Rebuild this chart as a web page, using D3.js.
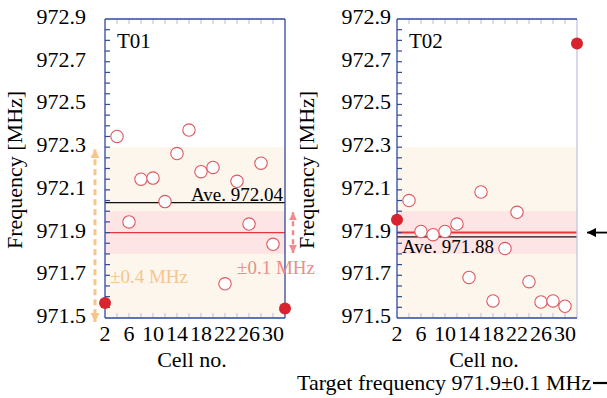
<!DOCTYPE html>
<html>
<head>
<meta charset="utf-8">
<script src="https://cdn.jsdelivr.net/npm/d3@7/dist/d3.min.js"></script>
<style>
  body { margin: 0; background: #fff; }
</style>
</head>
<body>
<svg id="chart" width="607" height="398"></svg>
<script>
// cell numbers (x) and measured frequency per cell, MHz
var cells = [2, 4, 6, 8, 10, 12, 14, 16, 18, 20, 22, 24, 26, 28, 30, 32];
var freqT01 = [971.57, 972.35, 971.95, 972.15, 972.155, 972.045, 972.27, 972.38,
               972.185, 972.205, 971.66, 972.14, 971.94, 972.225, 971.845, 971.545];
var freqT02 = [971.96, 972.05, 971.905, 971.89, 971.905, 971.94, 971.69, 972.09,
               971.58, 971.825, 971.995, 971.67, 971.575, 971.58, 971.555, 972.785];
var panelNames = ["T01", "T02"];
var averages = [972.04, 971.88];
var target = 971.9;
var tolNarrow = 0.1;
var tolWide = 0.4;
var yTickLabels = ["971.5", "971.7", "971.9", "972.1", "972.3", "972.5", "972.7", "972.9"];
var xTickLabels = [2, 6, 10, 14, 18, 22, 26, 30];

var serif = "'Liberation Serif', 'Times New Roman', Times, 'DejaVu Serif', serif";
var svg = d3.select("#chart")
    .attr("font-family", serif)
    .style("font-family", serif);
var axisBlue = "#2e4a9e", faint = "#c9cde6";
var bandOrange = "#fdf6ec", bandPink = "#fde5e5";
var dotRed = "#d9232e", ringRed = "#e0575e";

var y = d3.scaleLinear().domain([971.5, 972.9]).range([318, 19]);
var x = d3.scaleLinear().domain([2, 32]).range([0, 180]);

var defs = svg.append("defs");
function marker(id, color, w, h) {
    defs.append("marker")
        .attr("id", id)
        .attr("viewBox", "0 0 10 10")
        .attr("refX", 10).attr("refY", 5)
        .attr("markerUnits", "userSpaceOnUse")
        .attr("markerWidth", w).attr("markerHeight", h)
        .attr("orient", "auto-start-reverse")
        .append("path")
        .attr("d", "M0,0 L10,5 L0,10 z")
        .attr("fill", color);
}
marker("arrOrange", "#f7c58c", 9, 11);
marker("arrPink", "#f28a8a", 8, 10);
marker("arrBlack", "#000", 10, 9);

var panels = [
    { left: 105, freq: freqT01, labelGap: 19, ave: averages[0], aveAbove: true, rightEdge: axisBlue },
    { left: 397, freq: freqT02, labelGap: 6, ave: averages[1], aveAbove: false, rightEdge: "#c4c4e4" }
];

panels.forEach(function (p, i) {
    var g = svg.append("g").attr("transform", "translate(" + p.left + ",0)");
    var w = x.range()[1];

    // tolerance bands
    g.append("rect")
        .attr("x", 0).attr("width", w)
        .attr("y", y(target + tolWide))
        .attr("height", y(target - tolWide) - y(target + tolWide))
        .attr("fill", bandOrange);
    g.append("rect")
        .attr("x", 0).attr("width", w)
        .attr("y", y(target + tolNarrow))
        .attr("height", y(target - tolNarrow) - y(target + tolNarrow))
        .attr("fill", bandPink);

    // target + average lines
    g.append("line")
        .attr("x1", 0).attr("x2", w)
        .attr("y1", y(target)).attr("y2", y(target))
        .attr("stroke", "#e8353a").attr("stroke-width", i == 1 ? 2 : 1.3);
    g.append("line")
        .attr("x1", 0).attr("x2", w)
        .attr("y1", y(p.ave)).attr("y2", y(p.ave))
        .attr("stroke", "#111").attr("stroke-width", 1.2);

    var aveLabel = g.append("text")
        .attr("font-size", 19)
        .text("Ave. " + p.ave.toFixed(2));
    if (p.aveAbove) {
        aveLabel.attr("x", w - 2).attr("y", y(p.ave) - 2).attr("text-anchor", "end");
    } else {
        aveLabel.attr("x", 5).attr("y", y(p.ave) + 16);
    }

    // faint minor ticks, top and bottom
    var minor = d3.range(4, 31, 2);
    g.selectAll(".tickTop").data(minor).enter().append("line")
        .attr("x1", function (d) { return x(d); }).attr("x2", function (d) { return x(d); })
        .attr("y1", y(972.9)).attr("y2", y(972.9) + 5)
        .attr("stroke", faint).attr("stroke-width", 1.3);
    g.selectAll(".tickBot").data(minor).enter().append("line")
        .attr("x1", function (d) { return x(d); }).attr("x2", function (d) { return x(d); })
        .attr("y1", y(971.5)).attr("y2", y(971.5) - 5)
        .attr("stroke", faint).attr("stroke-width", 1.3);

    // left axis ticks every 0.05
    var yt = d3.range(1, 28).map(function (k) { return 971.5 + k * 0.05; });
    g.selectAll(".tickY").data(yt).enter().append("line")
        .attr("x1", 0).attr("x2", 5)
        .attr("y1", function (d) { return y(d); }).attr("y2", function (d) { return y(d); })
        .attr("stroke", axisBlue).attr("stroke-width", 1.2);

    // frame
    g.append("line").attr("x1", w).attr("x2", w).attr("y1", y(972.9)).attr("y2", y(971.5))
        .attr("stroke", p.rightEdge).attr("stroke-width", 1.3);
    g.append("line").attr("x1", 0).attr("x2", w).attr("y1", y(972.9)).attr("y2", y(972.9))
        .attr("stroke", axisBlue).attr("stroke-width", 1.3);
    g.append("line").attr("x1", 0).attr("x2", w).attr("y1", y(971.5)).attr("y2", y(971.5))
        .attr("stroke", axisBlue).attr("stroke-width", 1.5);
    g.append("line").attr("x1", 0).attr("x2", 0).attr("y1", y(972.9)).attr("y2", y(971.5))
        .attr("stroke", axisBlue).attr("stroke-width", 1.3);

    // y tick labels
    g.selectAll(".ylab").data(yTickLabels).enter().append("text")
        .attr("x", -p.labelGap)
        .attr("y", function (d) { return y(+d) + 5; })
        .attr("text-anchor", "end")
        .attr("font-size", 22)
        .text(function (d) { return d; });

    // x tick labels
    g.selectAll(".xlab").data(xTickLabels).enter().append("text")
        .attr("x", function (d) { return x(d); })
        .attr("y", 341)
        .attr("text-anchor", "middle")
        .attr("font-size", 22)
        .text(function (d) { return d; });

    g.append("text")
        .attr("x", w / 2 - 3).attr("y", 367)
        .attr("text-anchor", "middle")
        .attr("font-size", 22)
        .text("Cell no.");

    g.append("text")
        .attr("transform", "translate(-83,170) rotate(-90)")
        .attr("text-anchor", "middle")
        .attr("font-size", 22)
        .text("Frequency [MHz]");

    g.append("text")
        .attr("x", 12).attr("y", 48)
        .attr("font-size", 21)
        .text(panelNames[i]);

    // points: edge cells filled, the rest open rings
    var pts = cells.map(function (c, k) {
        return { c: c, f: p.freq[k], edge: k == 0 || k == cells.length - 1 };
    });
    g.selectAll(".pt").data(pts).enter().append("circle")
        .attr("cx", function (d) { return x(d.c); })
        .attr("cy", function (d) { return y(d.f); })
        .attr("r", function (d) { return d.edge ? 6 : 6.2; })
        .attr("fill", function (d) { return d.edge ? dotRed : "#fff"; })
        .attr("stroke", function (d) { return d.edge ? "none" : ringRed; })
        .attr("stroke-width", 1.1);
});

// annotations on the left panel
var left = panels[0].left, w0 = x.range()[1];
svg.append("line")
    .attr("x1", left - 10).attr("x2", left - 10)
    .attr("y1", y(target + tolWide) + 2).attr("y2", y(target - tolWide) + 4)
    .attr("stroke", "#f7c58c").attr("stroke-width", 3)
    .attr("stroke-dasharray", "6,4")
    .attr("marker-start", "url(#arrOrange)")
    .attr("marker-end", "url(#arrOrange)");
svg.append("text")
    .attr("x", left + 5).attr("y", 283)
    .attr("font-size", 19).attr("fill", "#f7c58c")
    .text("±0.4 MHz");

svg.append("line")
    .attr("x1", left + w0 + 8).attr("x2", left + w0 + 8)
    .attr("y1", y(target + tolNarrow) + 1).attr("y2", y(target - tolNarrow) - 1)
    .attr("stroke", "#f28a8a").attr("stroke-width", 2.5)
    .attr("stroke-dasharray", "5,4")
    .attr("marker-start", "url(#arrPink)")
    .attr("marker-end", "url(#arrPink)");
svg.append("text")
    .attr("x", 237).attr("y", 274)
    .attr("font-size", 19).attr("fill", "#f28a8a")
    .text("±0.1 MHz");

// arrow pointing at the target line, and legend
svg.append("line")
    .attr("x1", 607).attr("x2", 587)
    .attr("y1", y(target)).attr("y2", y(target))
    .attr("stroke", "#000").attr("stroke-width", 1.8)
    .attr("marker-end", "url(#arrBlack)");
svg.append("text")
    .attr("x", 297).attr("y", 390)
    .attr("font-size", 22)
    .text("Target frequency 971.9±0.1 MHz");
svg.append("line")
    .attr("x1", 593).attr("x2", 607)
    .attr("y1", 383).attr("y2", 383)
    .attr("stroke", "#000").attr("stroke-width", 2.2);
</script>
</body>
</html>
